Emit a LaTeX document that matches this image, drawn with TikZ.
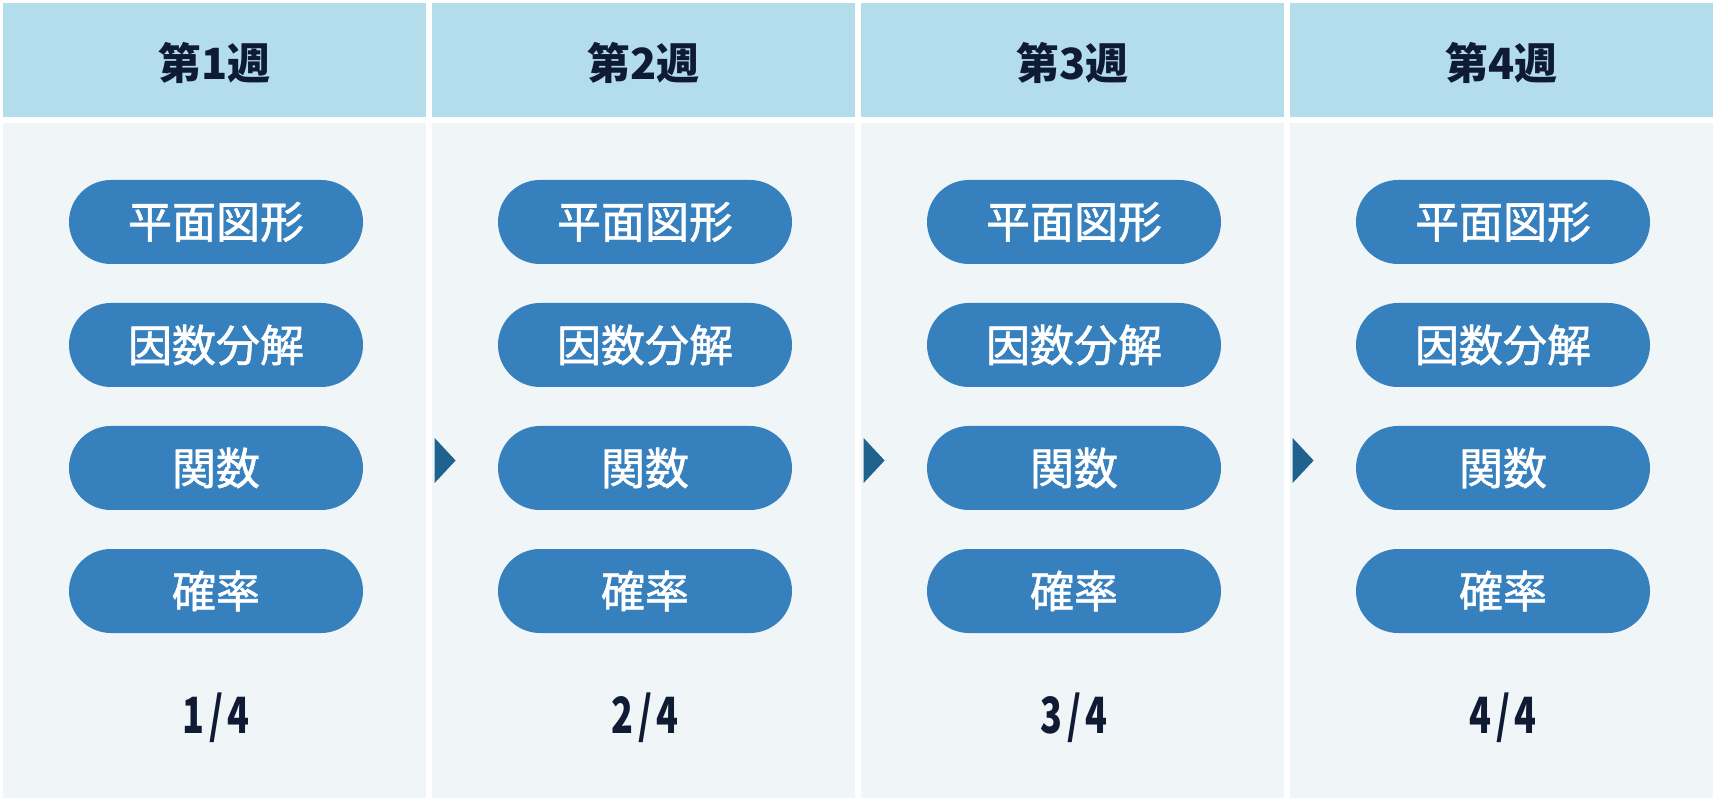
\documentclass[tikz,border=0pt]{standalone}
\usepackage{fontspec}
\usepackage{graphicx}
\newfontfamily\jpfont{Noto Sans CJK JP}
\newfontfamily\jpmed{Noto Sans CJK JP}[FakeBold=1.3]
\definecolor{headblue}{HTML}{B3DDEB}
\definecolor{bodygray}{HTML}{F0F6F7}
\definecolor{pillblue}{HTML}{3780BE}
\definecolor{arrowblue}{HTML}{1F628E}
\definecolor{navy}{HTML}{0F1A35}
\begin{document}
\begin{tikzpicture}[x=0.5pt,y=-0.5pt,
  head/.style={fill=headblue,minimum width=211.5pt,minimum height=57pt,inner sep=0pt,
    text height=19.5pt,text depth=0pt,
    text=navy,font=\jpfont\bfseries\fontsize{21.5}{24}\selectfont},
  body/.style={fill=bodygray,minimum width=211.5pt,minimum height=337.5pt,inner sep=0pt},
  pill/.style={fill=pillblue,rounded corners=21pt,minimum width=147pt,minimum height=42pt,
    inner sep=0pt,text=white,font=\jpmed\fontsize{22}{24}\selectfont},
  frac/.style={text=navy,inner sep=0pt,font=\jpfont\bfseries\fontsize{25}{28}\selectfont}]
\useasboundingbox (0,0) rectangle (1728,801);
\foreach \i in {1,...,4}{
  \pgfmathsetmacro\cx{214.5+429*(\i-1)}
  \node[head] (head\i) at (\cx,60) {第{\i}週};
  \node[body] (body\i) at (\cx,460.5) {};
  \foreach \t [count=\j] in {平面図形,因数分解,関数,確率}
    \node[pill] (pill\i-\j) at (\cx+1.5,222+123*\j-123) {\t};
  \node[frac] (frac\i) at (\cx+1.5,718) {\scalebox{0.72}[1]{\i\hspace{3pt}/\hspace{3pt}4}};
}
% arrows between weeks
\foreach \i in {2,3,4}
  \fill[arrowblue] ([xshift=1.5pt,yshift=11.25pt]body\i.west) -- ++(10.5pt,-11.25pt)
    -- ++(-10.5pt,-11.25pt) -- cycle;
\end{tikzpicture}
\end{document}
